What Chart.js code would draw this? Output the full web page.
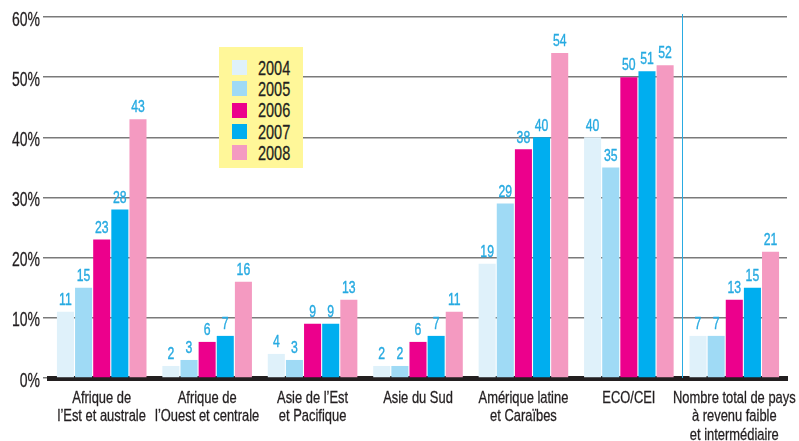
<!DOCTYPE html>
<html>
<head>
<meta charset="utf-8">
<script src="https://cdn.jsdelivr.net/npm/chart.js@4.4.0/dist/chart.umd.min.js"></script>
<style>
    html, body { margin: 0; padding: 0; background: #fff; }
    #wrap { position: relative; width: 799px; height: 441px; }
    #legend {
        position: absolute; left: 219px; top: 47px; width: 84px; height: 121px;
        background: #fff799; box-sizing: border-box; padding: 10px 0 0 13px;
        font-family: "Liberation Sans", Arial, sans-serif;
    }
    .item { display: flex; align-items: center; height: 21.3px; font-size: 21px; color: #231f20; }
    .swatch { width: 15px; height: 15px; margin-right: 11px; flex: none; }
    .txt { display: inline-block; transform: scaleX(0.69); transform-origin: left center; -webkit-text-stroke: 0.3px #231f20; }
</style>
</head>
<body>
<div id="wrap">
    <canvas id="chart" width="799" height="441"></canvas>
    <div id="legend"></div>
</div>
<script>
const FONT = '"Liberation Sans", Arial, sans-serif';

const categories = [
    ['Afrique de', 'l\u2019Est et australe'],
    ['Afrique de', 'l\u2019Ouest et centrale'],
    ['Asie de l\u2019Est', 'et Pacifique'],
    ['Asie du Sud'],
    ['Am\u00e9rique latine', 'et Cara\u00efbes'],
    ['ECO/CEI'],
    ['Nombre total de pays', '\u00e0 revenu faible', 'et interm\u00e9diaire']
];
const years = ['2004', '2005', '2006', '2007', '2008'];
const colors = ['#dff1fa', '#9fdaf5', '#ec008c', '#00aeef', '#f49ac1'];

const v2004 = [11, 2, 4, 2, 19, 40, 7];
const v2005 = [15, 3, 3, 2, 29, 35, 7];
const v2006 = [23, 6, 9, 6, 38, 50, 13];
const v2007 = [28, 7, 9, 7, 40, 51, 15];
const v2008 = [43, 16, 13, 11, 54, 52, 21];
const series = [v2004, v2005, v2006, v2007, v2008];

const yTicks = [0, 10, 20, 30, 40, 50, 60];

// legend in the yellow box
document.getElementById('legend').innerHTML = years.map((y, i) => `
    <div class="item"><span class="swatch" style="background:${colors[i]}"></span><span class="txt">${y}</span></div>
`).join('');

// no condensed face installed, so squeeze the text by hand
function narrowText(ctx, text, x, y, sx, align) {
    ctx.save();
    ctx.translate(x, y);
    ctx.scale(sx, 1);
    ctx.textAlign = align;
    ctx.fillText(text, 0, 0);
    ctx.strokeText(text, 0, 0);
    ctx.restore();
}

const valueLabels = {
    id: 'valueLabels',
    afterDatasetsDraw(chart) {
        const ctx = chart.ctx;
        ctx.save();
        ctx.font = '17px ' + FONT;
        ctx.fillStyle = ctx.strokeStyle = '#27aae1';
        ctx.lineWidth = 0.4;
        ctx.textBaseline = 'bottom';
        chart.data.datasets.forEach((ds, di) => {
            chart.getDatasetMeta(di).data.forEach((bar, i) => {
                narrowText(ctx, String(ds.data[i]), bar.x, bar.y - 3, 0.72, 'center');
            });
        });
        ctx.restore();
    }
};

const axisLabels = {
    id: 'axisLabels',
    afterDraw(chart) {
        const { x, y } = chart.scales;
        const ctx = chart.ctx;
        ctx.save();
        ctx.fillStyle = ctx.strokeStyle = '#231f20';
        ctx.lineWidth = 0.3;
        ctx.textBaseline = 'middle';
        ctx.font = '17px ' + FONT;
        categories.forEach((lines, i) => {
            const px = x.getPixelForValue(i);
            lines.forEach((t, j) => narrowText(ctx, t, px, x.bottom - 43 + j * 18.5, 0.76, 'center'));
        });
        ctx.font = '20px ' + FONT;
        yTicks.forEach(v => narrowText(ctx, v + '%', 40, y.getPixelForValue(v) + 3, 0.7, 'right'));
        ctx.restore();
    }
};

// thin blue rule between the regions and the total
const separator = {
    id: 'separator',
    beforeDatasetsDraw(chart) {
        const x = chart.scales.x;
        const ctx = chart.ctx;
        const px = Math.round((x.getPixelForValue(5) + x.getPixelForValue(6)) / 2) + 0.5;
        ctx.save();
        ctx.strokeStyle = '#29abe2';
        ctx.lineWidth = 1;
        ctx.beginPath();
        ctx.moveTo(px, chart.chartArea.top - 3);
        ctx.lineTo(px, chart.chartArea.bottom);
        ctx.stroke();
        ctx.restore();
    }
};

new Chart(document.getElementById('chart'), {
    type: 'bar',
    data: {
        labels: categories,
        datasets: series.map((d, i) => ({
            label: years[i],
            data: d,
            backgroundColor: colors[i],
            categoryPercentage: 0.86,
            barPercentage: 0.94
        }))
    },
    options: {
        responsive: false,
        animation: false,
        layout: { padding: { top: 17, right: 12, left: 0, bottom: 0 } },
        plugins: { legend: { display: false }, tooltip: { enabled: false } },
        scales: {
            x: {
                afterFit: (axis) => { axis.height = 63; },
                grid: { display: false },
                border: { display: true, color: '#231f20', width: 5 },
                ticks: { display: false }
            },
            y: {
                min: 0,
                max: 60,
                afterBuildTicks: (axis) => { axis.ticks = yTicks.map(v => ({ value: v })); },
                afterFit: (axis) => { axis.width = 49; },
                grid: {
                    color: (c) => c.tick && c.tick.value === 0 ? 'rgba(0,0,0,0)' : '#7a7a7a',
                    lineWidth: 1.5,
                    tickLength: 6,
                    tickColor: '#7a7a7a'
                },
                border: { display: false },
                ticks: { display: false }
            }
        }
    },
    plugins: [separator, valueLabels, axisLabels]
});
</script>
</body>
</html>
